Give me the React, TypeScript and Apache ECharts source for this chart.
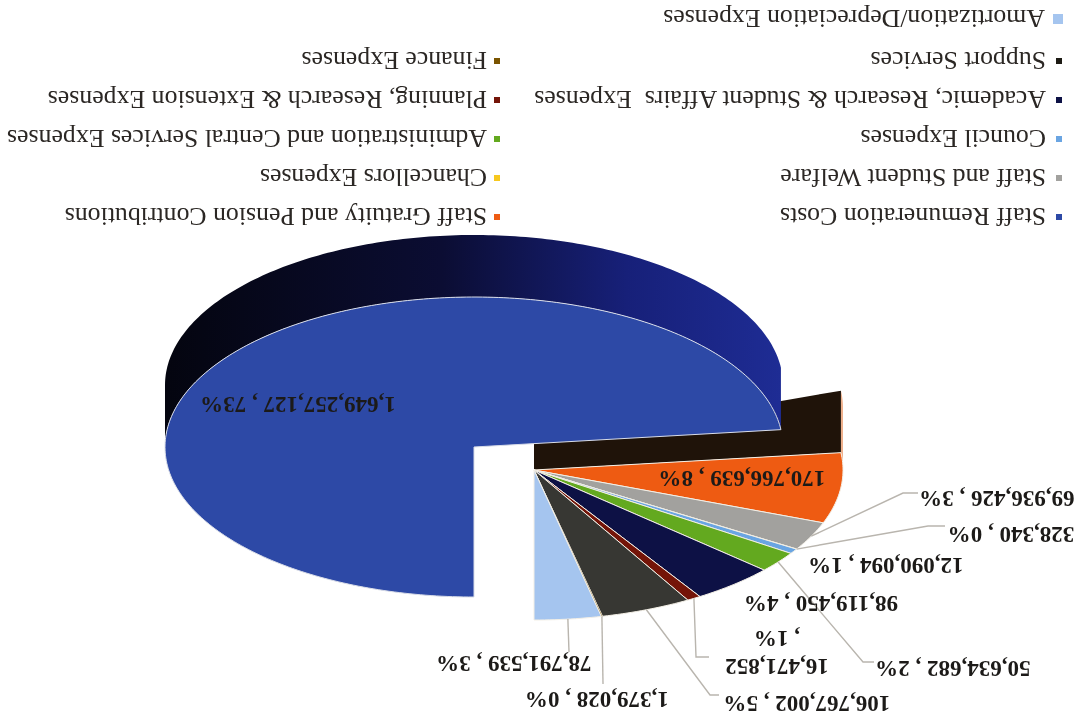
import React, { useEffect, useRef } from "react";
import * as echarts from "echarts";

const categories = [
  "Staff Remuneration Costs",
  "Staff Gratuity and Pension Contributions",
  "Staff and Student Welfare",
  "Chancellors Expenses",
  "Council Expenses",
  "Administration and Central Services Expenses",
  "Academic, Research & Student Affairs  Expenses",
  "Planning, Research & Extension Expenses",
  "Support Services",
  "Finance Expenses",
  "Amortization/Depreciation Expenses",
];
const amounts = [
  1649257127, 170766639, 69936426, 328340, 12090094, 50634682, 98119450,
  16471852, 106767002, 1379028, 78791539,
];
const sliceColors = [
  "#2d49a6", "#ee5b12", "#a2a19e", "#f7c81e", "#6aa5e2", "#63a91f",
  "#0d1145", "#741408", "#373733", "#7a5400", "#a5c5ef",
];
const legendColors = [
  "#2d49a6", "#ee5b12", "#a2a19e", "#f7c81e", "#6aa5e2", "#63a91f",
  "#0d1145", "#741408", "#1d1b14", "#7a5400", "#a5c5ef",
];
const legendLeftColumn = [0, 2, 4, 6, 8];
const legendRightColumn = [1, 3, 5, 7, 9];
const legendLastEntry = [10];

// Where each value label sits, and the elbow of its leader line if it has one.
const labelCentres: [number, number][] = [
  [776, 315], [332, 241], [77, 221], [63, 185], [188, 154], [121, 51],
  [253, 116], [297, 67], [267, 16], [477, 20], [560, 56],
];
const leaderElbows: ([number, number][] | null)[] = [
  null, null, [[171, 227], [156, 227]], [[146, 194], [129, 194]], null,
  [[211, 58], [200, 58]], null, [[378, 63], [365, 63]], [[364, 25], [355, 25]],
  [[471, 36]], [[505, 68]],
];

const total = amounts.reduce((a, b) => a + b, 0);
const RX = 309;
const RY = 150;
const WALL = 62;
const EXPLODED_CENTRE = [600, 273];
const GROUP_CENTRE = [540, 250];
const RAD = Math.PI / 180;

const sweep = amounts.map((v) => (v / total) * 360);
const startAngles = sweep.map((_, i) =>
  sweep.slice(0, i).reduce((a, b) => a + b, 0)
);

function rim(c: number[], deg: number, dy = 0): number[] {
  return [c[0] + RX * Math.sin(deg * RAD), c[1] - RY * Math.cos(deg * RAD) + dy];
}

function arcPoints(c: number[], from: number, to: number, dy = 0): number[][] {
  const out: number[][] = [];
  const n = Math.max(2, Math.ceil(Math.abs(to - from)));
  for (let i = 0; i <= n; i++) out.push(rim(c, from + ((to - from) * i) / n, dy));
  return out;
}

function labelText(i: number): string {
  const amount = amounts[i].toLocaleString("en-US");
  const share = Math.round((amounts[i] / total) * 100);
  return i === 7 ? `${amount}\n, ${share}%` : `${amount} , ${share}%`;
}

const renderSlice = (i: number) => () => {
  const centre = i === 0 ? EXPLODED_CENTRE : GROUP_CENTRE;
  const from = startAngles[i];
  const to = from + sweep[i];
  const children: any[] = [];

  if (i === 0) {
    // outer wall of the large slice, visible along the lower half only
    const lo = 90;
    const top = arcPoints(centre, lo, to);
    const bottom = arcPoints(centre, to, lo, WALL);
    children.push({
      type: "polygon",
      shape: { points: [...top, ...bottom] },
      style: {
        fill: new echarts.graphic.LinearGradient(0, 0, 1, 0, [
          { offset: 0, color: "#1e2c94" },
          { offset: 0.25, color: "#172079" },
          { offset: 0.55, color: "#0b0d33" },
          { offset: 1, color: "#04050f" },
        ]),
      },
    });
  }
  if (i === 1) {
    // cut face left open by pulling the large slice out, plus the thin rim strip
    const outer = rim(centre, from);
    children.push({
      type: "polygon",
      shape: {
        points: arcPoints(centre, from, 270).concat(arcPoints(centre, 270, from, WALL)),
      },
      style: { fill: "#eeb08c" },
    });
    children.push({
      type: "polygon",
      shape: {
        points: [centre, outer, [outer[0], outer[1] + WALL], [centre[0], centre[1] + 26]],
      },
      style: { fill: "#1f1309" },
    });
  }

  children.push({
    type: "polygon",
    shape: { points: [centre, ...arcPoints(centre, from, to)] },
    style: {
      fill: sliceColors[i],
      stroke: i === 0 ? "#d9dde8" : "#f3efe6",
      lineWidth: sweep[i] < 1 ? 0.5 : 1,
    },
  });

  const elbows = leaderElbows[i];
  if (elbows) {
    children.push({
      type: "polyline",
      shape: { points: [rim(centre, from + sweep[i] / 2), ...elbows] },
      style: { stroke: "#b9b5ae", lineWidth: 1.4, fill: "none" },
    });
  }
  const [lx, ly] = labelCentres[i];
  children.push({
    type: "text",
    z2: 10,
    style: {
      text: labelText(i),
      x: lx,
      y: ly,
      align: "center",
      verticalAlign: "middle",
      fill: "#1c1a18",
      font: 'bold 23px "Liberation Serif", serif',
      lineHeight: 28,
    },
  });
  return { type: "group", children };
};

// The pulled-out slice has to sit above the cut face drawn with the orange slice.
const drawOrder = [1, 0, 2, 3, 4, 5, 6, 7, 8, 9, 10];

const legendText = {
  fontFamily: '"Liberation Serif", serif',
  fontSize: 25.8,
  color: "#2b2724",
};

export default function App() {
  const ref = useRef<HTMLDivElement>(null);
  useEffect(() => {
    const chart = echarts.init(ref.current!, undefined, { renderer: "svg" });
    const legendData = (ids: number[]) =>
      ids.map((i) => ({
        name: categories[i],
        icon: "rect",
        itemStyle: { color: legendColors[i] },
      }));
    chart.setOption({
      animation: false,
      backgroundColor: "#ffffff",
      legend: [
        {
          orient: "vertical",
          left: 12,
          top: 490,
          padding: 0,
          itemWidth: 6,
          itemHeight: 6,
          itemGap: 13,
          selectedMode: false,
          textStyle: { ...legendText, padding: [0, 0, 0, 5] },
          data: legendData(legendLeftColumn),
        },
        {
          orient: "vertical",
          left: 574,
          top: 490,
          padding: 0,
          itemWidth: 6,
          itemHeight: 6,
          itemGap: 13,
          selectedMode: false,
          textStyle: { ...legendText, padding: [0, 0, 0, 2] },
          data: legendData(legendRightColumn),
        },
        {
          left: 11,
          top: 688,
          padding: 0,
          itemWidth: 10,
          itemHeight: 10,
          selectedMode: false,
          textStyle: { ...legendText, padding: [0, 0, 0, 3] },
          data: legendData(legendLastEntry),
        },
      ],
      series: drawOrder.map((i) => ({
        type: "custom",
        name: categories[i],
        coordinateSystem: "none",
        silent: true,
        clip: false,
        itemStyle: { color: sliceColors[i] },
        data: [amounts[i]],
        renderItem: renderSlice(i),
      })),
    });
    return () => chart.dispose();
  }, []);
  return (
    <div
      ref={ref}
      style={{
        position: "fixed",
        left: 0,
        top: 0,
        width: 1074,
        height: 720,
        transform: "rotate(180deg)",
      }}
    />
  );
}
